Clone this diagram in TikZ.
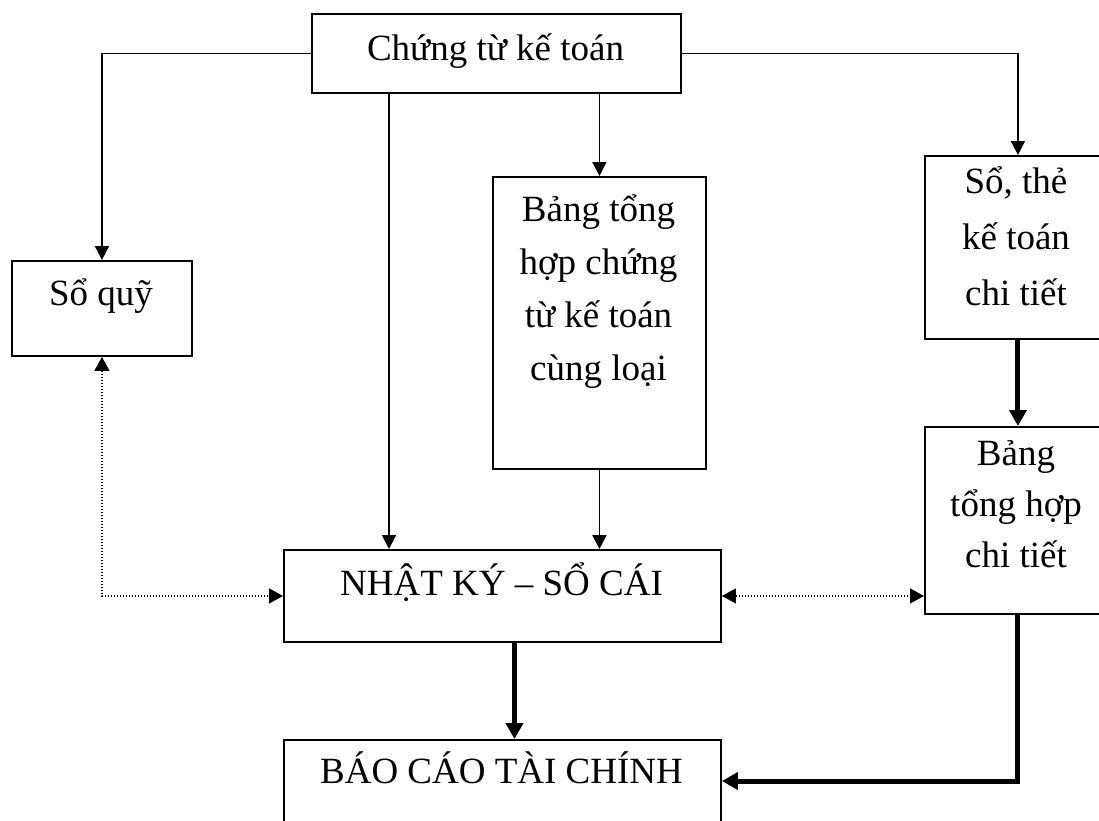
\documentclass[tikz,border=0pt]{standalone}
\usepackage{fontspec}
\setmainfont{Liberation Serif}
\usetikzlibrary{arrows.meta}
\begin{document}
\begin{tikzpicture}[x=1pt,y=-1pt,
  box/.style={draw, line width=1.9pt, inner sep=0pt, anchor=north west},
  txt/.style={font=\fontsize{37}{53}\selectfont, align=center, inner sep=0pt, anchor=base},
  thinarrow/.style={line width=1.9pt, -{Triangle[length=14pt,width=14pt]}},
  thickarrow/.style={line width=5pt, -{Triangle[length=16pt,width=17pt]}},
  dotarrow/.style={line width=1.4pt, dash pattern=on 1.4pt off 1.6pt, {Triangle[length=14pt,width=15pt]}-{Triangle[length=14pt,width=15pt]}}
]
\useasboundingbox (0,0) rectangle (1099,820);
% boxes
\node[box, minimum width=369pt, minimum height=79pt] (top) at (311,13) {};
\node[box, minimum width=180pt, minimum height=95pt] (soquy) at (11,260) {};
\node[box, minimum width=213pt, minimum height=292pt] (bangth) at (492,176) {};
\node[box, minimum width=186pt, minimum height=183pt] (sothe) at (924,155) {};
\node[box, minimum width=186pt, minimum height=187pt] (bangct) at (924,426) {};
\node[box, minimum width=437pt, minimum height=92pt] (nhatky) at (283,549) {};
\node[box, minimum width=437pt, minimum height=100pt] (baocao) at (283,739) {};
% texts (multi-line nodes: base = baseline of last line)
\node[txt] (ttop) at (495.5,60) {Chứng từ kế toán};
\node[txt] (tsoquy) at (101,305) {Sổ quỹ};
\node[txt] (tbangth) at (598.5,380) {Bảng tổng\\hợp chứng\\từ kế toán\\cùng loại};
\node[txt, font=\fontsize{37}{56}\selectfont] (tsothe) at (1016,305) {Sổ, thẻ\\kế toán\\chi tiết};
\node[txt, font=\fontsize{37}{51}\selectfont] (tbangct) at (1016,567) {Bảng\\tổng hợp\\chi tiết};
\node[txt] (tnhatky) at (501.5,595) {NHẬT KÝ – SỔ CÁI};
\node[txt] (tbaocao) at (501.5,783) {BÁO CÁO TÀI CHÍNH};
% corner of the thick return line
\coordinate (corner) at (bangct.south |- 0,781);
% connectors
\draw[thinarrow] (top.west) -| (soquy.north);
\draw[thinarrow] ([xshift=78pt]top.south west) -- ([xshift=106pt]nhatky.north west);
\draw[thinarrow] (top.south -| bangth.north) -- (bangth.north);
\draw[thinarrow] (top.east) -| (sothe.north);
\draw[thinarrow] (bangth.south) -- (bangth.south |- nhatky.north);
\draw[thickarrow] (sothe.south) -- (bangct.north);
\draw[thickarrow] ([xshift=12pt]nhatky.south) -- ([xshift=12pt]baocao.north);
\draw[thickarrow, line join=miter] (bangct.south) -- (corner) -- (corner -| baocao.east);
\draw[dotarrow] (soquy.south) |- (nhatky.west);
\draw[dotarrow] (nhatky.east) -- (nhatky.east -| bangct.west);
\end{tikzpicture}
\end{document}
